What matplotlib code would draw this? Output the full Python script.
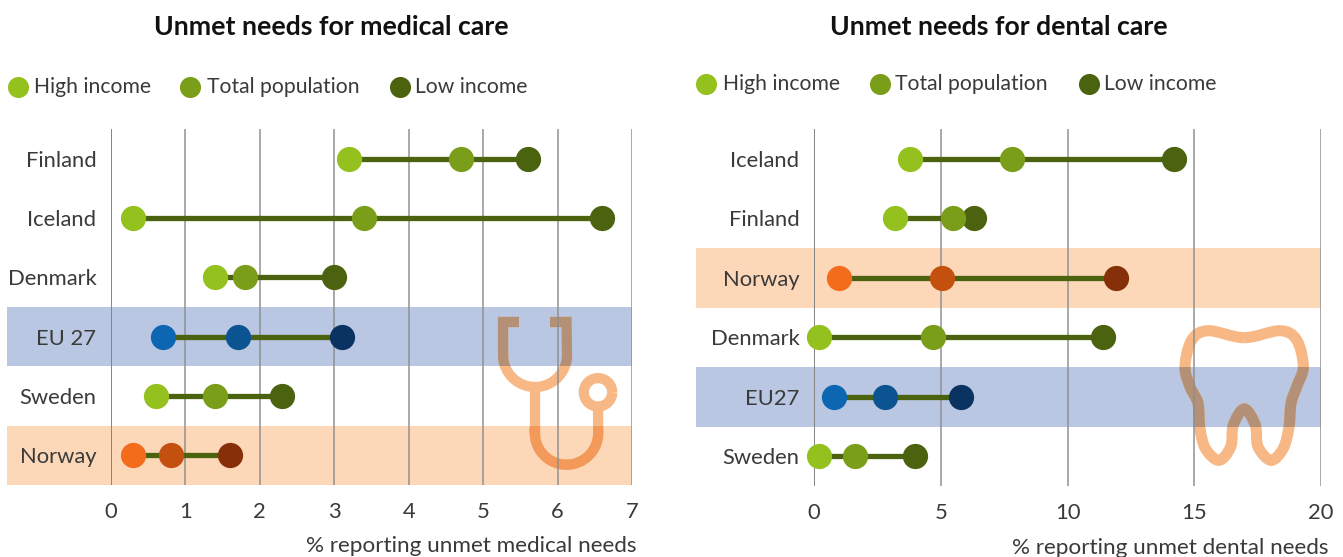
import numpy as np
import matplotlib
matplotlib.use("Agg")
import matplotlib.pyplot as plt
from matplotlib.path import Path
from matplotlib.patches import PathPatch, Rectangle
from matplotlib.transforms import Affine2D

# Medical care
med_countries = ["Finland", "Iceland", "Denmark", "EU 27", "Sweden", "Norway"]
med_high = [3.2, 0.3, 1.4, 0.7, 0.6, 0.3]
med_total = [4.7, 3.4, 1.8, 1.7, 1.4, 0.8]
med_low = [5.6, 6.6, 3.0, 3.1, 2.3, 1.6]
med_ticks = [0, 1, 2, 3, 4, 5, 6, 7]

# Dental care
den_countries = ["Iceland", "Finland", "Norway", "Denmark", "EU27", "Sweden"]
den_high = [3.8, 3.2, 1.0, 0.2, 0.8, 0.2]
den_total = [7.8, 5.5, 5.05, 4.7, 2.8, 1.6]
den_low = [14.2, 6.3, 11.9, 11.4, 5.8, 4.0]
den_ticks = [0, 5, 10, 15, 20]

legend_labels = ["High income", "Total population", "Low income"]

W, H = 1343, 557
plt.rcParams["font.family"] = "Lato"

GREENS = ["#95c11f", "#7a9e1a", "#4b620f"]
ORANGES = ["#f36c1c", "#c4500f", "#86300a"]
BLUES = ["#0c66b2", "#0c5391", "#0a3361"]
BAND_ORANGE = "#fcd8b9"
BAND_BLUE = "#bac7e2"
BANDS = {"Norway": (BAND_ORANGE, ORANGES), "EU 27": (BAND_BLUE, BLUES), "EU27": (BAND_BLUE, BLUES)}
LINE = "#4b620f"
TEXT = "#3a3a3a"
ICON = "#f7b885"
ICON_ON_BLUE = "#b39076"
ICON_ON_ORANGE = "#f39a5b"

# pixel coordinates of the reference image, y pointing down
px = Affine2D().scale(1, -1).translate(0, H)


def make_axes(fig, x0, x1, y0, y1):
    return fig.add_axes([x0 / W, 1 - y1 / H, (x1 - x0) / W, (y1 - y0) / H])


def dumbbell(ax, countries, high, total, low, ticks, xmax, band_left):
    ax.set_xlim(0, xmax)
    ax.set_ylim(len(countries), 0)
    ax.patch.set_visible(False)
    px0 = ax.get_position().x0 * W
    pxw = ax.get_position().width * W
    band_start = (band_left - px0) / pxw * xmax
    for i, c in enumerate(countries):
        y = i + 0.5
        colors = GREENS
        if c in BANDS:
            band, colors = BANDS[c]
            ax.barh(y, xmax - band_start, height=1, left=band_start, color=band, clip_on=False, zorder=1)
        ax.plot([high[i], low[i]], [y, y], color=LINE, lw=3.8, zorder=3, solid_capstyle="butt")
        for v, col in zip([low[i], total[i], high[i]], colors[::-1]):
            ax.scatter(v, y, s=330, color=col, linewidths=0, zorder=4, clip_on=False)
    ax.set_xticks(ticks)
    ax.set_yticks(np.arange(len(countries)) + 0.5, countries)
    ax.tick_params(axis="both", length=0, labelcolor=TEXT, labelsize=15.8)
    ax.tick_params(axis="x", pad=12)
    ax.tick_params(axis="y", pad=10.5)
    ax.grid(axis="x", color="#8c8c8c", lw=1.3, alpha=0.8)
    ax.set_axisbelow(False)
    for s in ax.spines.values():
        s.set_visible(False)
    ax.axvline(0, color="#6e6e6e", lw=1.3, zorder=2.5)


def smooth_closed(pts):
    # closed Catmull-Rom through the outline points, as cubic beziers
    pts = np.array(pts, dtype=float)
    n = len(pts)
    verts = [pts[0]]
    codes = [Path.MOVETO]
    for i in range(n):
        p0, p1, p2, p3 = pts[i - 1], pts[i], pts[(i + 1) % n], pts[(i + 2) % n]
        verts += [p1 + (p2 - p0) / 6, p2 - (p3 - p1) / 6, p2]
        codes += [Path.CURVE4] * 3
    return Path(verts, codes)


def arc(cx, cy, r, a0, a1, n=40):
    t = np.radians(np.linspace(a0, a1, n))
    return np.column_stack([cx + r * np.cos(t), cy + r * np.sin(t)])


def draw_icon(ax, path, lw, overlaps):
    # the icon multiplies with the bands, so each overlap is redrawn darker
    ax.add_patch(PathPatch(path, fill=False, edgecolor=ICON, lw=lw, transform=px, clip_on=False,
                           capstyle="butt", joinstyle="miter", zorder=1.5))
    for y0, y1, col in overlaps:
        clip = Rectangle((0, y0), W, y1 - y0, transform=px)
        p = PathPatch(path, fill=False, edgecolor=col, lw=lw, transform=px,
                      capstyle="butt", joinstyle="miter", zorder=2)
        ax.add_patch(p)
        p.set_clip_path(clip)


fig = plt.figure(figsize=(W / 100, H / 100), dpi=100, facecolor="white")

ax1 = make_axes(fig, 111, 632, 129, 485)
dumbbell(ax1, med_countries, med_high, med_total, med_low, med_ticks, 7, 7)
ax2 = make_axes(fig, 814, 1321, 129, 486)
dumbbell(ax2, den_countries, den_high, den_total, den_low, den_ticks, 20, 696)

# stethoscope
head = np.vstack([[[519, 322], [503, 322], [503, 355]], arc(535, 355, 32, 180, 0), [[566.5, 322], [550, 322]]])
tube = np.vstack([[[535, 387], [535, 433]], arc(566.5, 433, 31.7, 180, 0), [[598, 407]]])
ring = arc(598, 392.3, 14.2, 0, 360, 60)
steth = Path.make_compound_path(Path(head), Path(tube), Path(ring))
draw_icon(ax1, steth, 7.4, [(307, 366.3, ICON_ON_BLUE), (425.7, 485, ICON_ON_ORANGE)])

# tooth
tooth_x = [1244.3, 1280, 1296.7, 1303.3, 1296.7, 1291, 1289, 1283.3, 1271, 1258, 1255.3, 1244.3,
           1233.3, 1230.7, 1219, 1205.3, 1199.7, 1198, 1190, 1185, 1191.7, 1208.3]
tooth_y = [337.7, 330.7, 340, 366.7, 386.7, 403.3, 426.7, 448.3, 460.3, 446.7, 425, 409,
           425, 446.7, 460.3, 448.3, 426.7, 403.3, 386.7, 366.7, 340, 330.7]
tooth = smooth_closed(list(zip(tooth_x, tooth_y)))
draw_icon(ax2, tooth, 8.0, [(367, 426.5, ICON_ON_BLUE)])

# overlay for titles, axis captions and legends
ov = fig.add_axes([0, 0, 1, 1], zorder=10)
ov.set_xlim(0, W)
ov.set_ylim(H, 0)
ov.axis("off")

ov.text(331, 27, "Unmet needs for medical care", ha="center", va="center", fontsize=19.2, fontweight="bold", color="#111111")
ov.text(999, 27, "Unmet needs for dental care", ha="center", va="center", fontsize=19.2, fontweight="bold", color="#111111")
ov.text(637, 546, "% reporting unmet medical needs", ha="right", va="center", fontsize=16.2, color=TEXT)
ov.text(1329, 548, "% reporting unmet dental needs", ha="right", va="center", fontsize=16.2, color=TEXT)

for xs, tx, y in [([18, 190, 400], [34, 207, 415], 87), ([706, 880, 1089], [723, 895, 1104], 84)]:
    for x, t, lab, col in zip(xs, tx, legend_labels, GREENS):
        ov.scatter(x, y, s=230, color=col, linewidths=0)
        ov.text(t, y, lab, ha="left", va="center", fontsize=15.2, color=TEXT)

fig.savefig("out.png", dpi=100, facecolor="white")
